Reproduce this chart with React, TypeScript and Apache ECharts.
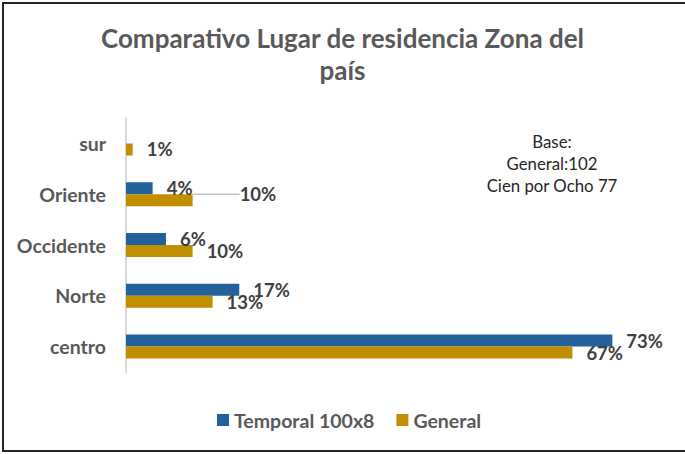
import React, { useEffect, useRef } from "react";
import * as echarts from "echarts";

const categories = ["sur", "Oriente", "Occidente", "Norte", "centro"];
const temporalValues: (number | null)[] = [null, 4, 6, 17, 73];
const generalValues: number[] = [1, 10, 10, 13, 67];
const seriesNames = ["Temporal 100x8", "General"];
const titleText = "Comparativo Lugar de residencia Zona del\npaís";
const baseLines = ["Base:", "General:102", "Cien por Ocho 77"];

const FONT = "Lato, 'Open Sans', sans-serif";

export default function App() {
  const ref = useRef<HTMLDivElement>(null);
  useEffect(() => {
    document.body.style.margin = "0";
    const chart = echarts.init(ref.current!, null, { renderer: "svg" });
    const labelStyle = {
      show: true,
      position: "right" as const,
      distance: 14,
      formatter: "{c}%",
      fontFamily: FONT,
      fontWeight: "bold" as const,
      fontSize: 18.5,
      color: "#404040",
    };
    chart.setOption({
      animation: false,
      backgroundColor: "#ffffff",
      title: {
        text: titleText,
        left: "center",
        top: 17,
        textStyle: {
          fontFamily: FONT,
          fontWeight: "bold",
          fontSize: 26,
          lineHeight: 32,
          color: "#595959",
        },
      },
      legend: {
        left: 212,
        top: 405,
        icon: "rect",
        itemWidth: 12,
        itemHeight: 12,
        itemGap: 22,
        textStyle: {
          fontFamily: FONT,
          fontWeight: "bold",
          fontSize: 19.5,
          color: "#595959",
        },
        data: seriesNames,
      },
      grid: { left: 126, right: 26, top: 118, bottom: 82 },
      xAxis: {
        type: "value",
        min: 0,
        max: 80,
        show: false,
        splitLine: { show: false },
      },
      yAxis: {
        type: "category",
        data: categories,
        inverse: true,
        axisLine: { show: true, lineStyle: { color: "#D9D9D9", width: 2 } },
        axisTick: { show: false },
        axisLabel: {
          margin: 20,
          fontFamily: FONT,
          fontWeight: "bold",
          fontSize: 19.5,
          color: "#595959",
        },
      },
      series: [
        {
          name: seriesNames[0],
          type: "bar",
          data: temporalValues,
          barWidth: 12,
          barGap: "0%",
          itemStyle: { color: "#22619A" },
          label: labelStyle,
        },
        {
          name: seriesNames[1],
          type: "bar",
          data: generalValues.map((v, i) =>
            i === 1 ? { value: v, labelLine: { show: true } } : v
          ),
          barWidth: 12,
          barGap: "0%",
          itemStyle: { color: "#BF8F00" },
          label: labelStyle,
          labelLine: {
            show: false,
            lineStyle: { color: "#A6A6A6", width: 1 },
          },
          labelLayout: (params: any) =>
            params.dataIndex === 1 ? { dx: 33, dy: -6 } : {},
        },
      ],
      graphic: [
        {
          type: "rect",
          shape: { x: 3, y: 3, width: 700, height: 448 },
          style: { fill: "none", stroke: "#262626", lineWidth: 2 },
          silent: true,
        },
        ...baseLines.map((t, i) => ({
          type: "text",
          x: 552,
          y: 141 + i * 22,
          style: {
            text: t,
            textAlign: "center",
            textVerticalAlign: "middle",
            fontFamily: FONT,
            fontSize: 16.8,
            fill: "#262626",
          },
        })),
      ],
    });
    return () => chart.dispose();
  }, []);
  return (
    <div
      ref={ref}
      style={{ position: "absolute", left: 0, top: 0, width: 685, height: 454 }}
    />
  );
}
